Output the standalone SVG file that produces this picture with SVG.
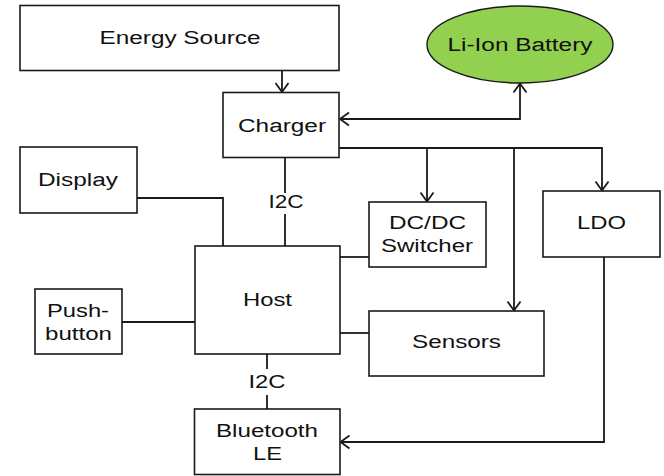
<svg xmlns="http://www.w3.org/2000/svg" width="664" height="476" viewBox="0 0 664 476">
<style>
.box{fill:#ffffff;stroke:#1a1a1a;stroke-width:1.6}
.bat{fill:#92D050;stroke:#1a1a1a;stroke-width:1.4}
.t{font-family:"Liberation Sans",Arial,sans-serif;font-size:18px;fill:#111;text-anchor:middle}
.c{fill:none;stroke:#1a1a1a;stroke-width:1.8}
</style>
<defs>
<marker id="arr" viewBox="-11 -8 13 16" refX="0" refY="0" markerWidth="13" markerHeight="16" markerUnits="userSpaceOnUse" orient="auto-start-reverse">
<path d="M-9,-6.5 L0,0 L-9,6.5" fill="none" stroke="#1a1a1a" stroke-width="1.8"/>
</marker>
</defs>
<rect width="664" height="476" fill="#ffffff"/>
<g id="connectors">
<path class="c" d="M282,71 V92" marker-end="url(#arr)"/>
<path class="c" d="M340,119 H520 V83.5" marker-start="url(#arr)" marker-end="url(#arr)"/>
<path class="c" d="M339,148 H602 V190.5" marker-end="url(#arr)"/>
<path class="c" d="M427,148 V201.5" marker-end="url(#arr)"/>
<path class="c" d="M514,148 V310.5" marker-end="url(#arr)"/>
<path class="c" d="M285,157 V193 M285,214 V246"/>
<path class="c" d="M137,198 H223 V246"/>
<path class="c" d="M340,257 H369"/>
<path class="c" d="M122,322 H195"/>
<path class="c" d="M340,333 H369"/>
<path class="c" d="M267,354 V369 M267,395 V409"/>
<path class="c" d="M604,257 V442 H340.5" marker-end="url(#arr)"/>
<text class="t" x="286" y="208" textLength="35" lengthAdjust="spacingAndGlyphs">I2C</text>
<text class="t" x="267" y="388" textLength="37" lengthAdjust="spacingAndGlyphs">I2C</text>
</g>
<g id="energy-source">
<rect class="box" x="20" y="5.5" width="319" height="65"/>
<text class="t" x="180" y="44" textLength="161" lengthAdjust="spacingAndGlyphs">Energy Source</text>
</g>
<g id="li-ion-battery">
<ellipse class="bat" cx="520" cy="44.5" rx="93" ry="38.5"/>
<text class="t" x="520" y="50.5" textLength="145" lengthAdjust="spacingAndGlyphs">Li-Ion Battery</text>
</g>
<g id="charger">
<rect class="box" x="223" y="92.5" width="116" height="65"/>
<text class="t" x="282" y="132" textLength="88" lengthAdjust="spacingAndGlyphs">Charger</text>
</g>
<g id="display">
<rect class="box" x="20" y="147" width="117" height="66"/>
<text class="t" x="78" y="186" textLength="80" lengthAdjust="spacingAndGlyphs">Display</text>
</g>
<g id="host">
<rect class="box" x="195" y="246" width="145" height="108"/>
<text class="t" x="267.5" y="306" textLength="49" lengthAdjust="spacingAndGlyphs">Host</text>
</g>
<g id="push-button">
<rect class="box" x="35" y="289" width="87" height="65"/>
<text class="t" x="78" y="316.5" textLength="62" lengthAdjust="spacingAndGlyphs">Push-</text>
<text class="t" x="78.5" y="339.5" textLength="67" lengthAdjust="spacingAndGlyphs">button</text>
</g>
<g id="dcdc-switcher">
<rect class="box" x="369" y="202" width="117" height="65"/>
<text class="t" x="427.5" y="229" textLength="77" lengthAdjust="spacingAndGlyphs">DC/DC</text>
<text class="t" x="427" y="251.5" textLength="92" lengthAdjust="spacingAndGlyphs">Switcher</text>
</g>
<g id="ldo">
<rect class="box" x="543" y="191" width="117" height="66"/>
<text class="t" x="601.5" y="229" textLength="49" lengthAdjust="spacingAndGlyphs">LDO</text>
</g>
<g id="sensors">
<rect class="box" x="369" y="311" width="175" height="65"/>
<text class="t" x="456.5" y="348" textLength="89" lengthAdjust="spacingAndGlyphs">Sensors</text>
</g>
<g id="bluetooth-le">
<rect class="box" x="194.5" y="409" width="145.5" height="65.5"/>
<text class="t" x="267" y="437" textLength="102" lengthAdjust="spacingAndGlyphs">Bluetooth</text>
<text class="t" x="267.5" y="460" textLength="29" lengthAdjust="spacingAndGlyphs">LE</text>
</g>
</svg>
